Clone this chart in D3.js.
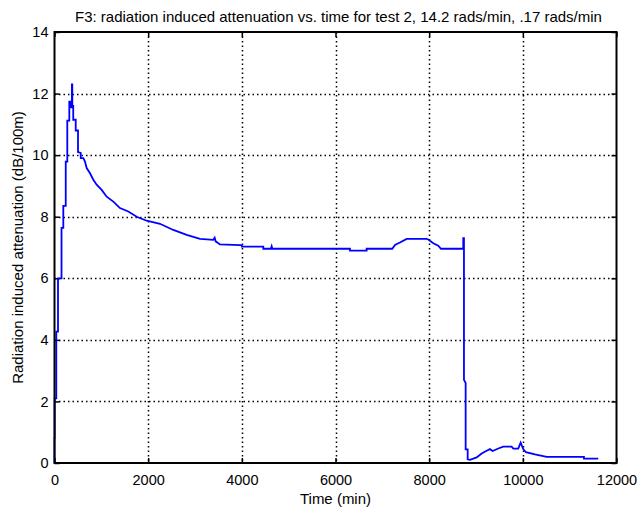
<!DOCTYPE html>
<html>
<head>
<meta charset="utf-8">
<script src="https://cdn.jsdelivr.net/npm/d3@7"></script>
<style>
  body { margin: 0; background: #fff; }
  svg { display: block; font-family: "Liberation Sans", Arial, Helvetica, sans-serif; }
</style>
</head>
<body>
<svg id="chart" width="642" height="508"></svg>
<script>
const titleText = "F3: radiation induced attenuation vs. time for test 2, 14.2 rads/min, .17 rads/min";
const xLabel = "Time (min)";
const yLabel = "Radiation induced attenuation (dB/100m)";
const xTicks = [0, 2000, 4000, 6000, 8000, 10000, 12000];
const yTicks = [0, 2, 4, 6, 8, 10, 12, 14];

const timeMin = [0, 0, 5, 5, 38, 38, 75, 75, 150, 150, 188, 188, 240, 240, 273, 273, 316, 316,
  350, 350, 372, 372, 380, 380, 400, 400, 453, 453, 502, 502, 560, 560, 615, 651, 687, 758, 829,
  900, 1007, 1114, 1256, 1398, 1576, 1755, 1968, 2252, 2537, 2822, 3106, 3391, 3420, 3440, 3534,
  3961, 4000, 4000, 4458, 4458, 4620, 4637, 4650, 6309, 6309, 6665, 6665, 7212, 7270, 7376, 7519,
  7946, 7981, 8088, 8194, 8252, 8728, 8728, 8743, 8743, 8779, 8779, 8822, 8822, 8871, 9014, 9121,
  9228, 9298, 9355, 9476, 9582, 9761, 9796, 9902, 9953, 10009, 10066, 10259, 10509, 11305, 11305, 11610];
const attenuation = [0, 0.81, 0.81, 2.1, 2.1, 4.27, 4.27, 6.0, 6.0, 7.64, 7.64, 8.35, 8.35, 9.79, 9.79, 11.12, 11.12, 11.74,
  11.74, 11.55, 11.55, 12.3, 12.3, 11.6, 11.6, 11.15, 11.15, 10.8, 10.8, 10.1, 10.07, 9.9, 9.9, 9.79, 9.58, 9.41, 9.2,
  9.04, 8.87, 8.65, 8.49, 8.28, 8.17, 8.0, 7.87, 7.77, 7.57, 7.41, 7.28, 7.25, 7.32, 7.2, 7.1,
  7.08, 7.08, 7.03, 7.03, 6.96, 6.96, 7.04, 6.96, 6.96, 6.9, 6.9, 6.96, 6.96, 7.08, 7.16, 7.28,
  7.28, 7.26, 7.14, 7.06, 6.96, 6.96, 7.3, 7.3, 2.7, 2.6, 0.44, 0.44, 0.12, 0.1, 0.18, 0.31,
  0.4, 0.45, 0.39, 0.47, 0.53, 0.53, 0.47, 0.47, 0.66, 0.45, 0.35, 0.28, 0.2, 0.2, 0.14, 0.14];

const data = timeMin.map((t, i) => ({ t, v: attenuation[i] }));

const L = 54.5, R = 616.5, T = 32, B = 463;
const svg = d3.select("#chart");
const x = d3.scaleLinear().domain([0, 12000]).range([L, R]);
const y = d3.scaleLinear().domain([0, 14]).range([B, T]);

// grid
const g = svg.append("g");
g.selectAll(".vg").data(xTicks.slice(1, -1)).enter().append("line")
  .attr("x1", d => Math.round(x(d)) + 0.5).attr("x2", d => Math.round(x(d)) + 0.5)
  .attr("y1", T).attr("y2", B)
  .attr("stroke", "#000").attr("stroke-width", 1.5).attr("stroke-dasharray", "1.5,3");
g.selectAll(".hg").data(yTicks.slice(1, -1)).enter().append("line")
  .attr("y1", d => Math.round(y(d)) + 0.5).attr("y2", d => Math.round(y(d)) + 0.5)
  .attr("x1", L).attr("x2", R)
  .attr("stroke", "#000").attr("stroke-width", 1.5).attr("stroke-dasharray", "1.5,3");

// axes
const axB = svg.append("g").attr("transform", `translate(0,${B})`)
  .call(d3.axisBottom(x).tickValues(xTicks).tickSize(-5).tickPadding(12).tickFormat(d3.format("d")));
const axT = svg.append("g").attr("transform", `translate(0,${T})`)
  .call(d3.axisTop(x).tickValues(xTicks).tickSize(-5).tickFormat(""));
const axL = svg.append("g").attr("transform", `translate(${L},0)`)
  .call(d3.axisLeft(y).tickValues(yTicks).tickSize(-5).tickPadding(6).tickFormat(d3.format("d")));
const axR = svg.append("g").attr("transform", `translate(${R},0)`)
  .call(d3.axisRight(y).tickValues(yTicks).tickSize(-5).tickFormat(""));
[axB, axT, axL, axR].forEach(a => {
  a.select(".domain").remove();
  a.selectAll(".tick line").attr("stroke", "#000").attr("stroke-width", 1.5);
  a.selectAll("text").attr("font-size", 14.5).attr("fill", "#000")
    .attr("font-family", "'Liberation Sans', Arial, sans-serif");
});

// line
svg.append("path").datum(data)
  .attr("fill", "none").attr("stroke", "#0000ff").attr("stroke-width", 1.8)
  .attr("stroke-linejoin", "miter")
  .attr("d", d3.line().x(d => x(d.t)).y(d => y(d.v)));

// box
svg.append("rect").attr("x", L).attr("y", T).attr("width", R - L).attr("height", B - T)
  .attr("fill", "none").attr("stroke", "#000").attr("stroke-width", 2);

// labels
svg.append("text").attr("x", (L + R) / 2 + 3).attr("y", 22).attr("text-anchor", "middle")
  .attr("font-size", 15).text(titleText);
svg.append("text").attr("x", (L + R) / 2).attr("y", 504).attr("text-anchor", "middle")
  .attr("font-size", 15).text(xLabel);
svg.append("text").attr("transform", `translate(23,${(T + B) / 2}) rotate(-90)`)
  .attr("text-anchor", "middle").attr("font-size", 15).text(yLabel);
</script>
</body>
</html>
